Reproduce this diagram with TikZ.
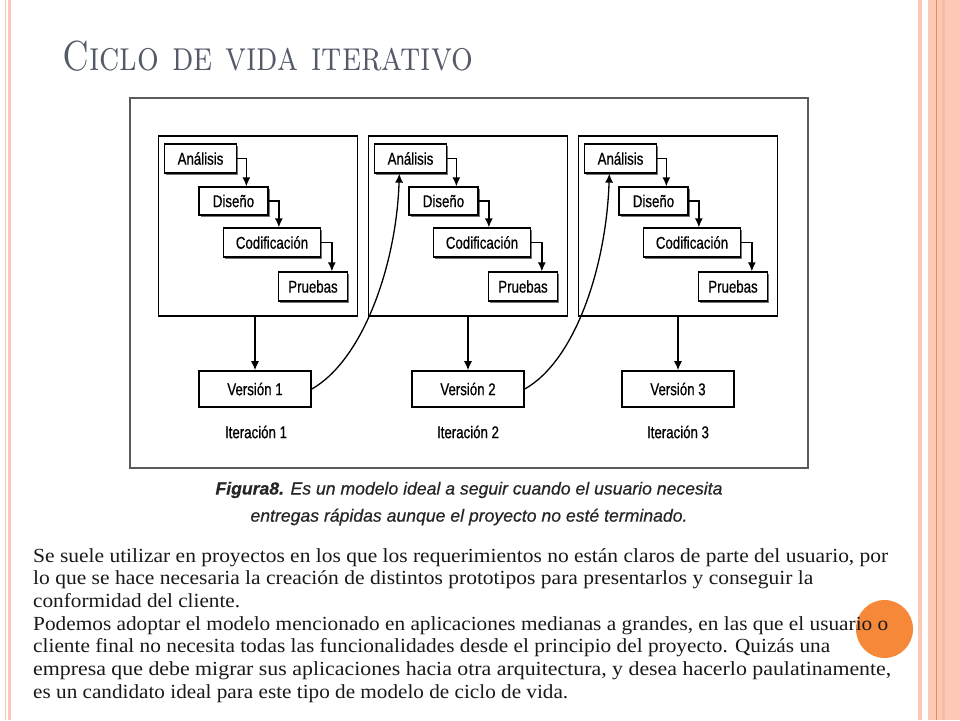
\documentclass[tikz,border=0pt]{standalone}
\usepackage{fontspec}
\usepackage{graphicx}
\usetikzlibrary{arrows.meta,shadows,calc}
\newfontfamily\diagfont[FakeStretch=0.78,FakeBold=0.6]{Liberation Sans}
\newfontfamily\capfont[FakeBold=0.5]{Liberation Sans}
\newfontfamily\bodyfont{Liberation Serif}
\definecolor{salmon}{RGB}{251,201,181}
\definecolor{orangeline}{RGB}{238,138,78}
\definecolor{orangedot}{RGB}{246,136,58}
\definecolor{titlegray}{RGB}{84,90,104}
\definecolor{framegray}{RGB}{90,90,90}
\newcommand\fitw[2]{\resizebox{#1}{\height}{#2}}
\tikzset{
  phasebox/.style={draw=black, line width=1.3pt, fill=white, inner sep=0pt,
    font=\diagfont\fontsize{17}{18}\selectfont,
    drop shadow={shadow xshift=1.8pt, shadow yshift=-1.8pt, fill=black!55, opacity=1}},
  iterbox/.style={draw=black, line width=1.3pt, minimum width=199pt, minimum height=180pt, inner sep=0pt},
  versbox/.style={draw=black, line width=1.6pt, fill=white, minimum width=112pt, minimum height=36pt, inner sep=0pt,
    font=\diagfont\fontsize{17}{18}\selectfont},
  iterlabel/.style={inner sep=0pt, font=\diagfont\fontsize{17}{18}\selectfont},
  arr/.style={line width=1.3pt, -{Latex[length=9pt,width=8pt]}},
  bodyline/.style={anchor=base west, inner sep=0pt, text=black!90},
  capline/.style={inner sep=0pt, text=black!85},
}
\newcommand\bodytext{\bodyfont\fontsize{20}{20}\selectfont}
\newcommand\captext{\capfont\itshape\fontsize{17.5}{18}\selectfont}
\begin{document}
\begin{tikzpicture}[x=1pt,y=-1pt]
\useasboundingbox (0,0) rectangle (960,720);
\fill[white] (0,0) rectangle (960,720);
% borders
\fill[salmon] (5,0) rectangle (6.3,720);
\fill[salmon] (7.5,0) rectangle (11,720);
\fill[salmon] (918,0) rectangle (922,720);
\fill[salmon] (928,0) rectangle (960,720);
\fill[salmon!80!orangeline] (942,0) rectangle (945,720);
\fill[orangeline] (936,0) rectangle (937.3,720);
% title
\node[anchor=base west, inner sep=0pt, text=titlegray] (title) at (62,70)
  {\fitw{411pt}{\fontsize{42}{42}\selectfont\textsc{Ciclo de vida iterativo}}};
% figure frame
\draw[framegray, line width=1.2pt] (130,98) rectangle (808,468);
% iteration boxes
\node[iterbox] (it1) at (258,226) {};
\node[iterbox] (it2) at (468,226) {};
\node[iterbox] (it3) at (678,226) {};
\foreach \i/\L in {1/158.5,2/368.5,3/578.5}{
  \node[phasebox, minimum width=72pt, minimum height=29pt] (a\i) at (\L+42,158.5) {Análisis};
  \node[phasebox, minimum width=69pt, minimum height=28pt] (d\i) at (\L+75,201) {Diseño};
  \node[phasebox, minimum width=97pt, minimum height=29pt] (c\i) at (\L+113.5,242.5) {Codificación};
  \node[phasebox, minimum width=69pt, minimum height=29pt] (p\i) at (\L+154.5,286.5) {Pruebas};
  \draw[arr] (a\i.east) -| ([xshift=48pt]d\i.north west);
  \draw[arr] (d\i.east) -| ([xshift=56pt]c\i.north west);
  \draw[arr] (c\i.east) -| ([xshift=54pt]p\i.north west);
}
% versions
\node[versbox] (v1) at (255,389) {Versión 1};
\node[versbox] (v2) at (468,389) {Versión 2};
\node[versbox] (v3) at (678,389) {Versión 3};
\draw[arr] (v1.north |- it1.south) -- (v1.north);
\draw[arr] (v2.north |- it2.south) -- (v2.north);
\draw[arr] (v3.north |- it3.south) -- (v3.north);
\node[iterlabel] (i1) at (256,432) {Iteración 1};
\node[iterlabel] (i2) at (468,432) {Iteración 2};
\node[iterlabel] (i3) at (678,432) {Iteración 3};
% feedback curves
\draw[arr] (v1.east) .. controls +(51,-29) and +(-3,92) .. ([xshift=25.5pt]a2.south west);
\draw[arr] (v2.east) .. controls +(51,-29) and +(-3,92) .. ([xshift=25.5pt]a3.south west);
% caption
\node[capline] (cap1) at (469,490) {\fitw{507pt}{\captext\textbf{Figura8.} Es un modelo ideal a seguir cuando el usuario necesita}};
\node[capline] (cap2) at (469,517) {\fitw{437pt}{\captext entregas rápidas aunque el proyecto no esté terminado.}};
% orange dot
\fill[orangedot] (884.5,629) ellipse [x radius=28.5, y radius=29];
% body text
\node[bodyline] (l1) at (33,562) {\fitw{855pt}{\bodytext Se suele utilizar en proyectos en los que los requerimientos no están claros de parte del usuario, por}};
\node[bodyline] (l2) at (33,584.7) {\fitw{780pt}{\bodytext lo que se  hace necesaria la creación de distintos prototipos para presentarlos y conseguir la}};
\node[bodyline] (l3) at (33,607.3) {\fitw{207pt}{\bodytext conformidad del cliente.}};
\node[bodyline] (l4) at (33,630) {\fitw{855pt}{\bodytext Podemos adoptar el modelo mencionado en aplicaciones medianas a grandes, en las que el usuario o}};
\node[bodyline] (l5) at (33,652.7) {\fitw{797pt}{\bodytext cliente final no necesita todas las funcionalidades desde el principio del proyecto. Quizás una}};
\node[bodyline] (l6) at (33,675.3) {\fitw{858pt}{\bodytext empresa que debe migrar sus aplicaciones hacia otra arquitectura, y desea hacerlo paulatinamente,}};
\node[bodyline] (l7) at (33,698) {\fitw{535pt}{\bodytext es un candidato ideal para este tipo de  modelo de ciclo de vida.}};
\end{tikzpicture}
\end{document}
